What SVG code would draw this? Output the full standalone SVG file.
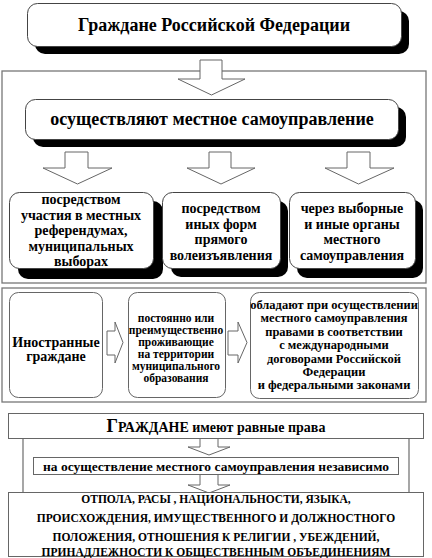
<svg xmlns="http://www.w3.org/2000/svg" width="432" height="558" viewBox="0 0 432 558">
<style>
text{font-weight:bold;fill:#000;text-anchor:middle}
.box{fill:#fff;stroke:#444;stroke-width:1}
.shadow{fill:#000}
.frame{fill:none;stroke:#777;stroke-width:1.3}
.arrow{fill:#fff;stroke:#666;stroke-width:1}
.rbox{fill:#fff;stroke:#666;stroke-width:1}
.gline{stroke:#777;stroke-width:1.3;fill:none}
</style>
<rect width="432" height="558" fill="#fff"/>
<rect class="frame" x="2" y="71" width="424" height="212"/>
<rect class="frame" x="2" y="288" width="424" height="114"/>
<g id="connectors">
<polygon class="arrow" points="200,60 222,60 222,79 245,79 211.5,95 178,79 200,79"/>
<polygon class="arrow" points="65,152 88,152 88,168 112,168 77.5,184 43,168 65,168"/>
<polygon class="arrow" points="209,152 231,152 231,168 255,168 221,184 187,168 209,168"/>
<polygon class="arrow" points="347,152 370,152 370,168 394,168 358.5,184 325,168 347,168"/>
<polygon class="arrow" points="107,331 115,331 115,322 123,342.5 115,363 115,355 107,355"/>
<polygon class="arrow" points="228,331 238,331 238,322 247,342.5 238,363 238,355 228,355"/>
<line class="gline" x1="23" y1="438" x2="23" y2="492"/>
<line class="gline" x1="409" y1="438" x2="409" y2="492"/>
<polygon class="arrow" points="200,438 218,438 218,447 230,447 209,455 188,447 200,447"/>
<polygon class="arrow" points="200,474 218,474 218,485 230,485 209,493 188,485 200,485"/>
</g>
<g font-family="'Liberation Serif', 'DejaVu Serif', 'Times New Roman', serif">
<g id="n1">
<rect class="shadow" x="35" y="11" width="374" height="43" rx="10"/>
<rect class="box" x="27.5" y="3.5" width="374" height="43" rx="10"/>
<text x="214" y="31" font-size="18">Граждане Российской Федерации</text>
</g>
<g id="n2">
<rect class="shadow" x="33" y="107" width="373" height="40" rx="10"/>
<rect class="box" x="25.5" y="99.5" width="373" height="40" rx="10"/>
<text x="212" y="125" font-size="18">осуществляют местное самоуправление</text>
</g>
<g id="n3">
<rect class="shadow" x="18" y="201" width="145" height="78" rx="10"/>
<rect class="box" x="9.5" y="192.5" width="144" height="76" rx="10"/>
<text font-size="14"><tspan x="81" y="204">посредством</tspan><tspan x="81" y="219.5">участия в местных</tspan><tspan x="81" y="235">референдумах,</tspan><tspan x="81" y="250.5">муниципальных</tspan><tspan x="81" y="266">выборах</tspan></text>
</g>
<g id="n4">
<rect class="shadow" x="171" y="201" width="117" height="76" rx="10"/>
<rect class="box" x="162.5" y="192.5" width="118" height="76" rx="10"/>
<text font-size="14"><tspan x="221" y="213">посредством</tspan><tspan x="221" y="228.5">иных форм</tspan><tspan x="221" y="244">прямого</tspan><tspan x="221" y="259.5">волеизъявления</tspan></text>
</g>
<g id="n5">
<rect class="shadow" x="297" y="200" width="126" height="78" rx="10"/>
<rect class="box" x="289.5" y="192.5" width="126" height="76" rx="10"/>
<text font-size="14"><tspan x="352" y="213">через выборные</tspan><tspan x="352" y="228.5">и иные органы</tspan><tspan x="352" y="244">местного</tspan><tspan x="352" y="259.5">самоуправления</tspan></text>
</g>
<g id="n6">
<rect class="rbox" x="9.5" y="292.5" width="93" height="105" rx="9"/>
<text font-size="14"><tspan x="56" y="347">Иностранные</tspan><tspan x="56" y="361">граждане</tspan></text>
</g>
<g id="n7">
<rect class="rbox" x="128.5" y="292.5" width="97" height="105" rx="9"/>
<text font-size="11.5"><tspan x="176" y="322">постоянно или</tspan><tspan x="176" y="334">преимущественно</tspan><tspan x="176" y="346">проживающие</tspan><tspan x="176" y="358">на территории</tspan><tspan x="176" y="370">муниципального</tspan><tspan x="176" y="382">образования</tspan></text>
</g>
<g id="n8">
<rect class="rbox" x="250.5" y="292.5" width="168" height="106" rx="9"/>
<text font-size="12.5"><tspan x="334" y="309">обладают при осуществлении</tspan><tspan x="334" y="322">местного самоуправления</tspan><tspan x="334" y="336">правами в соответствии</tspan><tspan x="334" y="349">с международными</tspan><tspan x="334" y="363">договорами Российской</tspan><tspan x="334" y="376">Федерации</tspan><tspan x="334" y="389">и федеральными законами</tspan></text>
</g>
<g id="n9">
<rect class="rbox" x="8.5" y="413.5" width="415" height="25"/>
<text x="216" y="432" font-size="14"><tspan font-size="18">Г</tspan><tspan font-size="14">РАЖДАНЕ</tspan> имеют равные права</text>
</g>
<g id="n10">
<rect class="rbox" x="33.5" y="457.5" width="365" height="17" stroke-width="1.5"/>
<text x="216" y="470.5" font-size="13.5">на осуществление местного самоуправления независимо</text>
</g>
<g id="n11">
<rect class="rbox" x="8.5" y="492.5" width="415" height="64"/>
<text font-size="11.5"><tspan x="216" y="503">ОТПОЛА, РАСЫ , НАЦИОНАЛЬНОСТИ, ЯЗЫКА,</tspan><tspan x="216" y="522">ПРОИСХОЖДЕНИЯ, ИМУЩЕСТВЕННОГО И ДОЛЖНОСТНОГО</tspan><tspan x="216" y="541">ПОЛОЖЕНИЯ, ОТНОШЕНИЯ К РЕЛИГИИ , УБЕЖДЕНИЙ,</tspan><tspan x="216" y="556">ПРИНАДЛЕЖНОСТИ К ОБЩЕСТВЕННЫМ ОБЪЕДИНЕНИЯМ</tspan></text>
</g>
</g>
</svg>
